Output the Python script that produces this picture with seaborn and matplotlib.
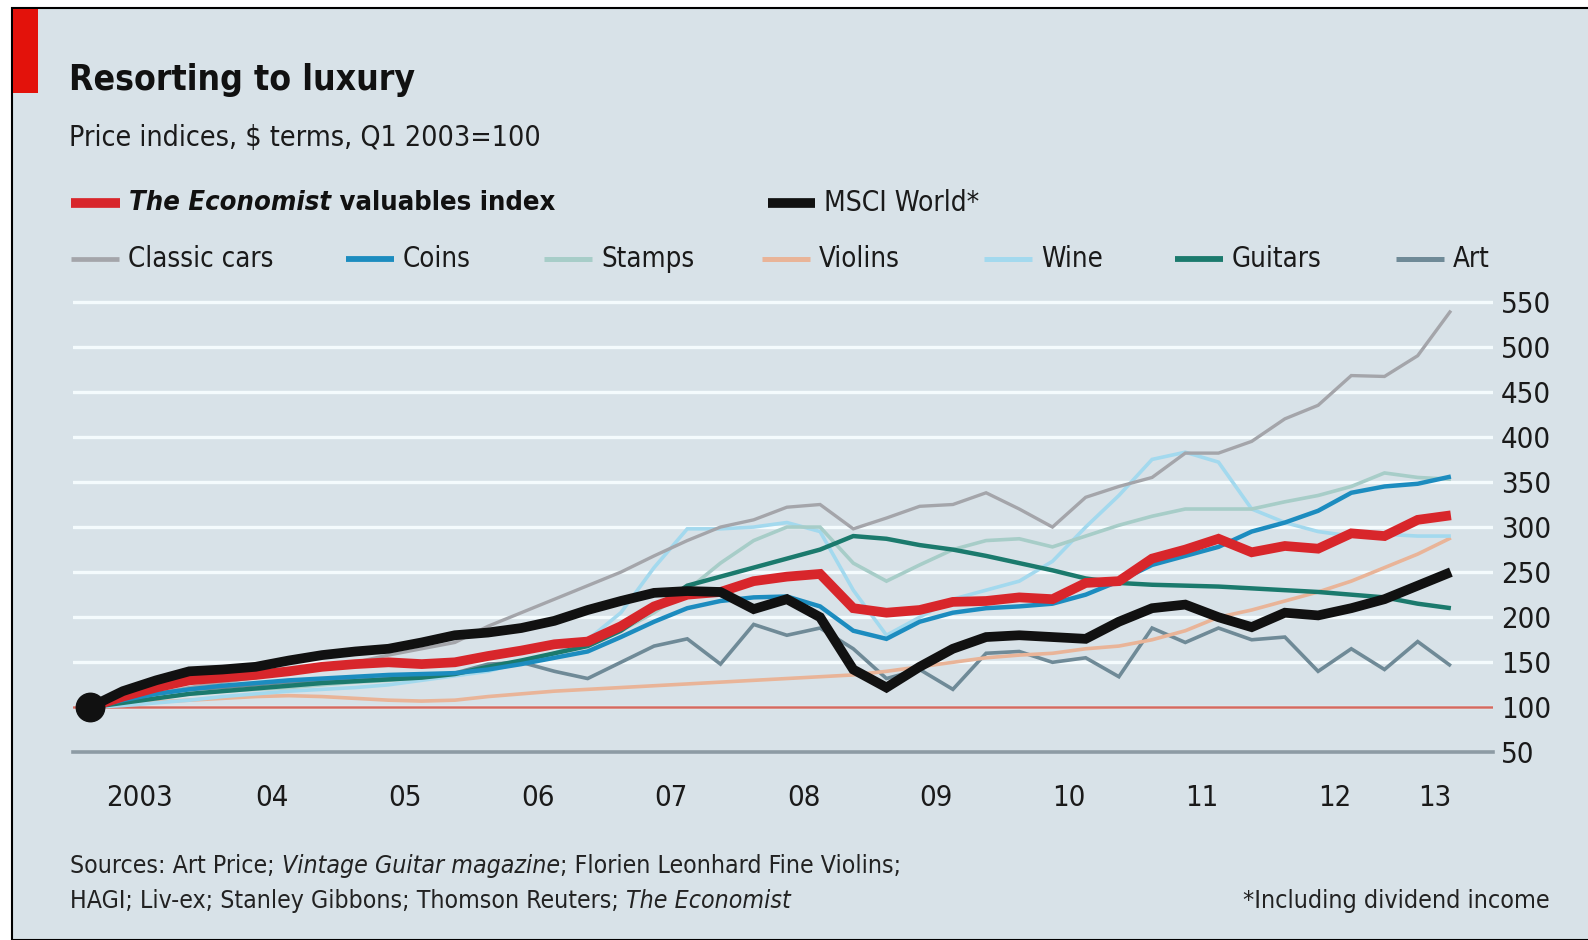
import numpy as np
import pandas as pd
import matplotlib.pyplot as plt
import seaborn as sns
from matplotlib.lines import Line2D
from matplotlib.patches import Rectangle

# quarterly, Q1 2003 .. Q2 2013, Q1 2003 = 100
quarters = pd.period_range('2003Q1', '2013Q2', freq='Q')
xq = quarters.year + (quarters.quarter - 0.5) / 4

valuables = [100, 112, 122, 130, 133, 136, 140, 145, 148, 150, 148, 150, 157, 163, 170, 173,
             190, 212, 225, 228, 240, 245, 248, 210, 205, 208, 217, 218, 222, 220, 238, 240,
             265, 275, 287, 272, 279, 276, 293, 290, 308, 313]
msci = [100, 118, 130, 140, 142, 145, 152, 158, 162, 165, 172, 180, 183, 188, 196, 208,
        218, 227, 229, 228, 209, 220, 200, 142, 122, 145, 165, 178, 180, 178, 176, 195,
        210, 214, 200, 189, 205, 202, 210, 220, 235, 250]
classic_cars = [100, 108, 115, 122, 128, 133, 138, 143, 150, 158, 165, 172, 190, 205, 220, 235,
                250, 268, 285, 300, 308, 322, 325, 298, 310, 323, 325, 338, 320, 300, 333, 345,
                355, 382, 382, 395, 420, 435, 468, 467, 490, 540]
coins = [100, 108, 115, 120, 124, 127, 130, 132, 134, 136, 137, 138, 142, 148, 155, 162,
         178, 195, 210, 218, 222, 223, 212, 185, 176, 195, 205, 210, 212, 215, 225, 240,
         258, 268, 278, 295, 305, 318, 338, 345, 348, 356]
stamps = [100, 105, 110, 115, 118, 120, 122, 125, 128, 130, 133, 137, 142, 150, 160, 170,
          185, 205, 230, 260, 285, 300, 300, 260, 240, 258, 275, 285, 287, 278, 290, 302,
          312, 320, 320, 320, 328, 335, 345, 360, 355, 353]
violins = [100, 103, 106, 108, 110, 112, 113, 112, 110, 108, 107, 108, 112, 115, 118, 120,
           122, 124, 126, 128, 130, 132, 134, 136, 140, 145, 150, 155, 158, 160, 165, 168,
           175, 185, 200, 208, 218, 228, 240, 255, 270, 288]
wine = [100, 102, 105, 108, 112, 115, 118, 120, 122, 125, 130, 135, 140, 150, 160, 175,
        205, 255, 298, 298, 300, 305, 295, 230, 180, 200, 220, 230, 240, 262, 300, 335,
        375, 383, 372, 320, 305, 295, 290, 292, 290, 290]
guitars = [100, 105, 110, 115, 118, 121, 124, 127, 129, 131, 133, 137, 145, 152, 160, 168,
           185, 210, 235, 245, 255, 265, 275, 290, 287, 280, 275, 268, 260, 252, 243, 238,
           236, 235, 234, 232, 230, 228, 225, 222, 215, 210]
art = [100, 108, 115, 120, 122, 125, 128, 130, 130, 132, 135, 138, 148, 150, 140, 132,
       150, 168, 176, 148, 192, 180, 188, 165, 132, 142, 120, 160, 162, 150, 155, 134,
       188, 172, 188, 175, 178, 140, 165, 142, 173, 146]

year_ticks = list(range(2003, 2014))
year_labels = ['2003', '04', '05', '06', '07', '08', '09', '10', '11', '12', '13']
y_ticks = list(range(50, 551, 50))

bg = '#d8e2e8'

# name, values, colour, width
thin = [
    ('Art', art, '#6f8a97', 2.6),
    ('Violins', violins, '#e9b498', 2.6),
    ('Wine', wine, '#a3d9ee', 2.6),
    ('Stamps', stamps, '#a7cdc8', 2.6),
    ('Classic cars', classic_cars, '#a4a5aa', 2.4),
    ('Guitars', guitars, '#1b7a6d', 3.2),
    ('Coins', coins, '#1c8cbf', 3.2),
]
thick = [
    ('The Economist valuables index', valuables, '#d8262b', 7),
    ('MSCI World*', msci, '#111111', 7),
]

sns.set_style('white')
plt.rcParams['font.family'] = ['DejaVu Sans']
plt.rcParams['font.stretch'] = 'condensed'

fig = plt.figure(figsize=(15.88, 9.40), dpi=100, facecolor='white')
fig.patches.append(Rectangle((12 / 1588, 0), 1, 1 - 8 / 940, transform=fig.transFigure,
                             facecolor=bg, edgecolor='black', lw=1.5, zorder=-10))
fig.patches.append(Rectangle((13 / 1588, 1 - 93 / 940), 25 / 1588, 84 / 940,
                             transform=fig.transFigure, facecolor='#e3120b', lw=0, zorder=-5))

ax = fig.add_axes([0.046, 0.1995, 0.894, 0.4825])
ax.set_facecolor(bg)

for name, vals, col, lw in thin + thick:
    sns.lineplot(x=xq, y=vals, color=col, lw=lw, ax=ax, legend=False,
                 solid_capstyle='butt', solid_joinstyle='miter')
ax.scatter([xq[0]], [msci[0]], s=420, color='#111111', zorder=10, clip_on=False)
ax.axhline(100, color='#d46a60', lw=1.8, zorder=1.5)

ax.set_xlim(2003, 2013.69)
ax.set_ylim(50, 553)
ax.set_yticks(y_ticks)
ax.grid(axis='y', color='#f4fbfd', lw=2.4, zorder=0)
ax.set_axisbelow(True)
ax.yaxis.tick_right()
ax.tick_params(axis='y', length=0, pad=6, labelsize=21, labelcolor='#1a1a1a')
ax.set_xticks(year_ticks)
ax.set_xticklabels([])
ax.set_xticks(np.arange(2003, 2013.6, 0.25), minor=True)
ax.tick_params(axis='x', which='major', direction='in', length=10, width=1.2, color='#4a4a4a')
ax.tick_params(axis='x', which='minor', direction='in', length=6, width=1.2, color='#4a4a4a')
for s in ['top', 'left', 'right']:
    ax.spines[s].set_visible(False)
ax.spines['bottom'].set_color('#8d9ba4')
ax.spines['bottom'].set_linewidth(2.6)
ax.set_xlabel('')
ax.set_ylabel('')

# year labels centred on each year (2013 on its two quarters)
for yr, lab in zip(year_ticks, year_labels):
    mid = yr + 0.5 if yr < 2013 else yr + 0.25
    ax.text(mid, -0.10, lab, transform=ax.get_xaxis_transform(), ha='center', va='center',
            fontsize=21, color='#1a1a1a')

W, H = 1588, 940
fig.text(69 / W, 1 - 90 / H, 'Resorting to luxury', fontsize=25.5, fontweight='bold',
         color='#111111', va='baseline')
fig.text(69 / W, 1 - 146 / H, 'Price indices, $ terms, Q1 2003=100', fontsize=20.5,
         color='#1a1a1a', va='baseline')

renderer = fig.canvas.get_renderer()


def rich(x, y, parts, **kw):
    for s, style, weight in parts:
        t = fig.text(x, y, s, style=style, fontweight=weight, **kw)
        x += t.get_window_extent(renderer).width / W


def swatch(x0, x1, y, col, lw):
    fig.add_artist(Line2D([x0 / W, x1 / W], [y, y], color=col, lw=lw,
                          solid_capstyle='butt', transform=fig.transFigure))


row1 = 1 - 203 / H
row2 = 1 - 259 / H
swatch(71, 120, row1, thick[0][2], 7)
rich(129 / W, row1, [('The Economist', 'italic', 'bold'), (' valuables index', 'normal', 'bold')],
     fontsize=19.6, va='center', color='#111111')
swatch(768, 815, row1, thick[1][2], 7)
fig.text(824 / W, row1, 'MSCI World*', fontsize=20.2, va='center', color='#1a1a1a')

legend_pos = {'Classic cars': 71, 'Coins': 346, 'Stamps': 544, 'Violins': 762,
              'Wine': 984, 'Guitars': 1175, 'Art': 1396}
for name, vals, col, lw in thin:
    x0 = legend_pos[name]
    swatch(x0, x0 + 48, row2, col, lw + 1)
    fig.text((x0 + 57) / W, row2, name, fontsize=19.8, va='center', color='#1a1a1a')

rich(70 / W, 1 - 866 / H, [('Sources: Art Price; ', 'normal', 'normal'),
                           ('Vintage Guitar magazine', 'italic', 'normal'),
                           ('; Florien Leonhard Fine Violins;', 'normal', 'normal')],
     fontsize=17.8, va='center', color='#222222')
rich(70 / W, 1 - 901 / H, [('HAGI; Liv-ex; Stanley Gibbons; Thomson Reuters; ', 'normal', 'normal'),
                           ('The Economist', 'italic', 'normal')],
     fontsize=17.8, va='center', color='#222222')
fig.text(1550 / W, 1 - 901 / H, '*Including dividend income', fontsize=18, ha='right',
         va='center', color='#222222')

fig.savefig('out.png', dpi=100, facecolor='white')
